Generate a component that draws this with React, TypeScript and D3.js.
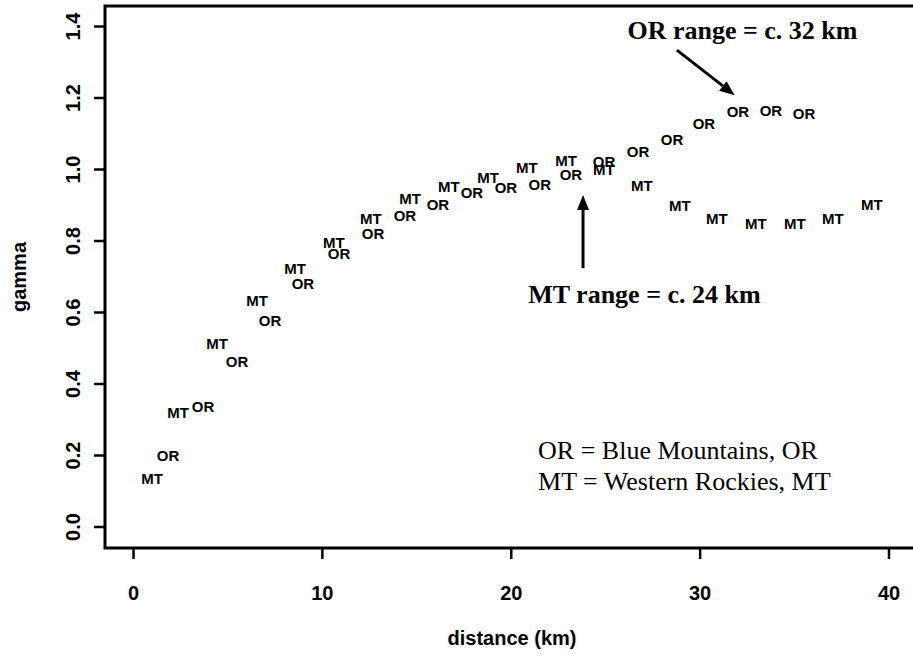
import React, { useEffect, useRef } from 'react';
import * as d3 from 'd3';

// semivariogram-like values
const mtDistance = [0.98, 2.36, 4.42, 6.54, 8.55, 10.61, 12.57, 14.64, 16.7, 18.77, 20.83, 22.9, 24.9, 26.92, 28.93, 30.89, 32.95, 35.02, 37.03, 39.09];
const mtGamma = [0.134, 0.319, 0.512, 0.632, 0.722, 0.795, 0.862, 0.918, 0.951, 0.976, 1.004, 1.024, 0.999, 0.954, 0.898, 0.864, 0.848, 0.848, 0.864, 0.903];

const orDistance = [1.83, 3.68, 5.48, 7.23, 8.97, 10.88, 12.68, 14.37, 16.12, 17.92, 19.72, 21.51, 23.16, 24.91, 26.71, 28.51, 30.2, 32.0, 33.75, 35.5];
const orGamma = [0.201, 0.336, 0.464, 0.576, 0.68, 0.766, 0.82, 0.87, 0.901, 0.934, 0.948, 0.959, 0.985, 1.021, 1.049, 1.085, 1.127, 1.161, 1.166, 1.155];

const xTicks = [0, 10, 20, 30, 40];
const yTicks = [0, 0.2, 0.4, 0.6, 0.8, 1.0, 1.2, 1.4];

const legendLines = ['OR = Blue Mountains, OR', 'MT = Western Rockies, MT'];

const App = () => {
  const svgRef = useRef<SVGSVGElement>(null);

  useEffect(() => {
    const width = 913;
    const height = 664;
    const box = { left: 105, top: 6, right: 920, bottom: 548 };
    const sans = "'Liberation Sans', Arial, sans-serif";
    const serif = "'Liberation Serif', 'Times New Roman', serif";

    const svg = d3.select(svgRef.current);
    svg.selectAll('*').remove();
    svg.attr('width', width).attr('height', height);

    svg.append('rect').attr('width', width).attr('height', height).attr('fill', '#fff');

    const x = d3.scaleLinear().domain([0, 40]).range([133.5, 889]);
    const y = d3.scaleLinear().domain([0, 1.4]).range([527, 26.5]);

    // frame
    svg.append('rect')
      .attr('x', box.left)
      .attr('y', box.top)
      .attr('width', box.right - box.left)
      .attr('height', box.bottom - box.top)
      .attr('fill', 'none')
      .attr('stroke', '#000')
      .attr('stroke-width', 3);

    // x axis
    const xAxis = svg.append('g');
    xAxis.selectAll('line')
      .data(xTicks)
      .enter().append('line')
      .attr('x1', d => x(d)).attr('x2', d => x(d))
      .attr('y1', box.bottom).attr('y2', box.bottom + 11)
      .attr('stroke', '#000').attr('stroke-width', 2.5);
    xAxis.selectAll('text')
      .data(xTicks)
      .enter().append('text')
      .attr('x', d => x(d))
      .attr('y', 600)
      .attr('text-anchor', 'middle')
      .style('font-family', sans)
      .style('font-size', '20px')
      .style('font-weight', 'bold')
      .text(d => d3.format('d')(d));

    // y axis
    const yAxis = svg.append('g');
    yAxis.selectAll('line')
      .data(yTicks)
      .enter().append('line')
      .attr('x1', box.left - 11).attr('x2', box.left)
      .attr('y1', d => y(d)).attr('y2', d => y(d))
      .attr('stroke', '#000').attr('stroke-width', 2.5);
    yAxis.selectAll('text')
      .data(yTicks)
      .enter().append('text')
      .attr('transform', d => `translate(80,${y(d)}) rotate(-90)`)
      .attr('text-anchor', 'middle')
      .style('font-family', sans)
      .style('font-size', '20px')
      .style('font-weight', 'bold')
      .text(d => d3.format('.1f')(d));

    // axis titles
    svg.append('text')
      .attr('x', 512)
      .attr('y', 645)
      .attr('text-anchor', 'middle')
      .style('font-family', sans)
      .style('font-size', '20px')
      .style('font-weight', 'bold')
      .text('distance (km)');

    svg.append('text')
      .attr('transform', 'translate(26,277) rotate(-90)')
      .attr('text-anchor', 'middle')
      .style('font-family', sans)
      .style('font-size', '20px')
      .style('font-weight', 'bold')
      .text('gamma');

    // point labels
    const series = [
      { label: 'MT', xs: mtDistance, ys: mtGamma },
      { label: 'OR', xs: orDistance, ys: orGamma }
    ];
    series.forEach(s => {
      svg.append('g')
        .selectAll('text')
        .data(s.xs.map((d, i) => ({ dist: d, gamma: s.ys[i] })))
        .enter().append('text')
        .attr('x', d => x(d.dist))
        .attr('y', d => y(d.gamma))
        .attr('dy', '0.36em')
        .attr('text-anchor', 'middle')
        .style('font-family', sans)
        .style('font-size', '15px')
        .style('font-weight', 'bold')
        .text(s.label);
    });

    // arrow annotations
    const drawArrow = (x0: number, y0: number, x1: number, y1: number) => {
      const ang = Math.atan2(y1 - y0, x1 - x0);
      const len = 15;
      const half = 6;
      const bx = x1 - len * Math.cos(ang);
      const by = y1 - len * Math.sin(ang);
      svg.append('line')
        .attr('x1', x0).attr('y1', y0)
        .attr('x2', bx).attr('y2', by)
        .attr('stroke', '#000').attr('stroke-width', 3);
      const pts: [number, number][] = [
        [x1, y1],
        [bx + half * Math.sin(ang), by - half * Math.cos(ang)],
        [bx - half * Math.sin(ang), by + half * Math.cos(ang)]
      ];
      svg.append('path')
        .attr('d', d3.line()(pts) + 'Z')
        .attr('fill', '#000');
    };

    drawArrow(x(28.77), y(1.334), x(31.83), y(1.208));
    drawArrow(x(23.8), y(0.724), x(23.8), y(0.929));

    svg.append('text')
      .attr('x', x(32.24))
      .attr('y', y(1.365))
      .attr('text-anchor', 'middle')
      .style('font-family', serif)
      .style('font-size', '26px')
      .style('font-weight', 'bold')
      .text('OR range = c. 32 km');

    svg.append('text')
      .attr('x', x(27.05))
      .attr('y', y(0.627))
      .attr('text-anchor', 'middle')
      .style('font-family', serif)
      .style('font-size', '26px')
      .style('font-weight', 'bold')
      .text('MT range = c. 24 km');

    // legend
    svg.append('g')
      .selectAll('text')
      .data(legendLines)
      .enter().append('text')
      .attr('x', x(21.42))
      .attr('y', (d, i) => (i === 0 ? y(0.19) : y(0.103)))
      .style('font-family', serif)
      .style('font-size', '26px')
      .text(d => d);
  }, []);

  return (
    <div style={{ position: 'absolute', left: 0, top: 0 }}>
      <svg ref={svgRef} style={{ display: 'block' }}></svg>
    </div>
  );
};

export default App;
